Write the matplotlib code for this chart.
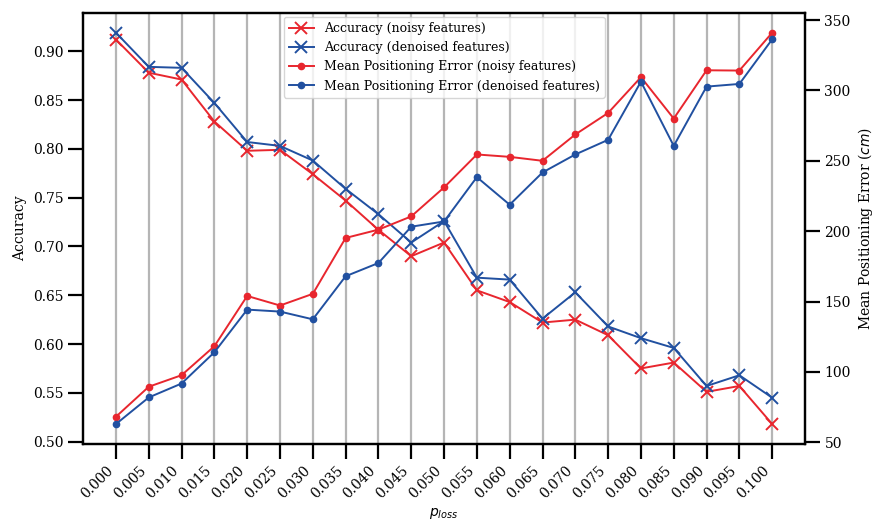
import numpy as np
import matplotlib
matplotlib.use("Agg")
import matplotlib.pyplot as plt

p_loss = np.round(np.arange(0, 0.1001, 0.005), 3)

acc_noisy = [0.912, 0.878, 0.871, 0.828, 0.798, 0.799, 0.774, 0.747, 0.717, 0.690,
             0.704, 0.655, 0.643, 0.622, 0.625, 0.609, 0.575, 0.581, 0.551, 0.557, 0.518]
acc_denoised = [0.919, 0.884, 0.883, 0.847, 0.807, 0.803, 0.788, 0.759, 0.733, 0.704,
                0.726, 0.668, 0.666, 0.626, 0.653, 0.618, 0.606, 0.596, 0.557, 0.568, 0.545]
mpe_noisy = [68.2, 89.5, 97.7, 118.3, 154.0, 147.2, 155.5, 195.2, 201.1, 210.5,
             231.1, 254.5, 252.8, 250.0, 268.7, 284.0, 309.4, 280.0, 314.3, 314.1, 341.0]
mpe_denoised = [63.0, 81.9, 91.8, 114.0, 144.3, 142.9, 137.4, 168.0, 177.4, 203.2,
                206.9, 238.4, 218.8, 241.7, 254.5, 264.9, 306.2, 260.6, 302.7, 304.6, 336.3]

RED = "#e8262e"
BLUE = "#2150a0"

plt.rcParams["font.family"] = "DejaVu Serif"
plt.rcParams["font.size"] = 10

fig, ax = plt.subplots(figsize=(8.75, 5.25), dpi=100)
fig.subplots_adjust(left=0.095, right=0.92, top=0.975, bottom=0.155)
ax2 = ax.twinx()

(l1,) = ax.plot(p_loss, acc_noisy, color=RED, marker="x", ms=8, mew=1.4, lw=1.4,
                label="Accuracy (noisy features)")
(l2,) = ax.plot(p_loss, acc_denoised, color=BLUE, marker="x", ms=8, mew=1.4, lw=1.4,
                label="Accuracy (denoised features)")
(l3,) = ax2.plot(p_loss, mpe_noisy, color=RED, marker="o", ms=4.5, lw=1.4,
                 label="Mean Positioning Error (noisy features)")
(l4,) = ax2.plot(p_loss, mpe_denoised, color=BLUE, marker="o", ms=4.5, lw=1.4,
                 label="Mean Positioning Error (denoised features)")

ax.set_xlim(-0.005, 0.105)
ax.set_xticks(p_loss)
ax.set_xticklabels([f"{v:.3f}" for v in p_loss], rotation=45, ha="right")
ax.set_yticks(np.arange(0.5, 0.91, 0.05))
ax2.set_yticks(np.arange(50, 351, 50))
ax.xaxis.grid(True, color="#b5b5b5", lw=1.6)
ax.set_axisbelow(True)

for a in (ax, ax2):
    a.tick_params(length=10.5, width=1.6)
    for s in a.spines.values():
        s.set_linewidth(1.6)

ax.set_xlabel("$p_{loss}$")
ax.set_ylabel("Accuracy")
ax2.set_ylabel("Mean Positioning Error ($cm$)")

ax2.legend(handles=[l1, l2, l3, l4], loc="upper center", fontsize=9,
           borderaxespad=0.3, handlelength=2)

fig.savefig("out.png")
